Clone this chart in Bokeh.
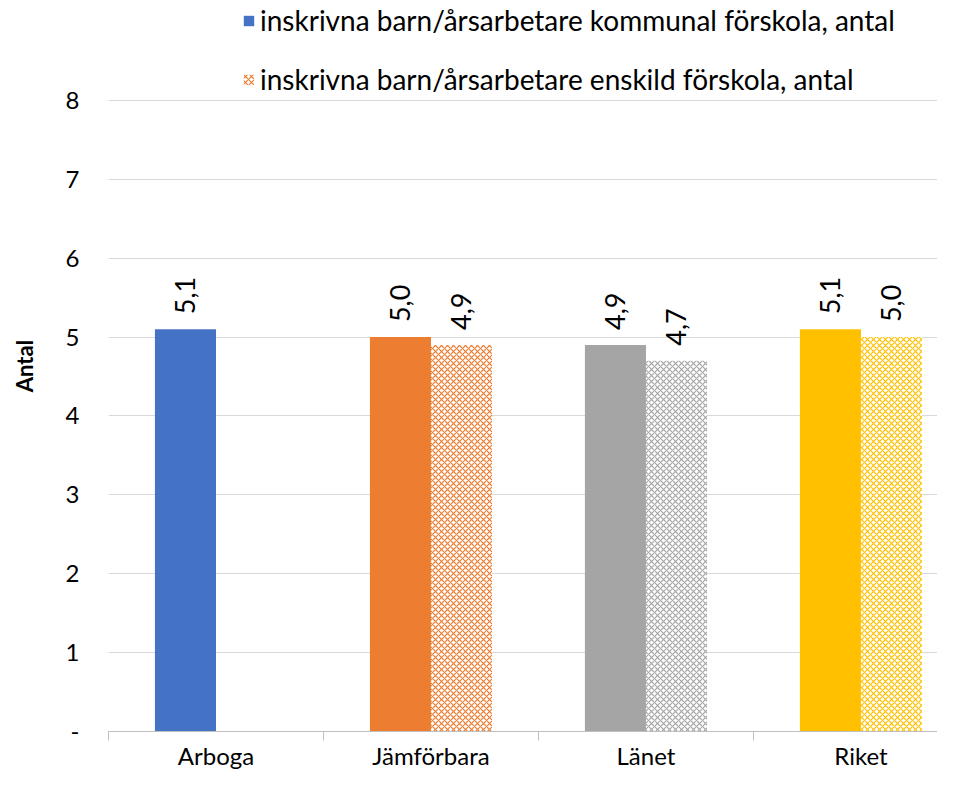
import math
from bokeh.plotting import figure
from bokeh.models import (ColumnDataSource, Range1d, FixedTicker, LabelSet,
                          Legend, LegendItem)
from bokeh.core.properties import value
from bokeh.embed import file_html
from bokeh.resources import INLINE

categories = ["Arboga", "Jämförbara", "Länet", "Riket"]
kommunal = [5.1, 5.0, 4.9, 5.1]
enskild = [float("nan"), 4.9, 4.7, 5.0]
series_names = ["inskrivna barn/årsarbetare kommunal förskola, antal",
                "inskrivna barn/årsarbetare enskild förskola, antal"]
y_ticks = [0, 1, 2, 3, 4, 5, 6, 7, 8]

solid_colors = ["#4472C4", "#ED7D31", "#A5A5A5", "#FFC000"]
hatch_colors = ["#ED7D31", "#ED7D31", "#A5A5A5", "#FFC000"]

FONT = "Lato"
centers = [i + 0.5 for i in range(len(categories))]
bw = 0.284
off = 0.142

def fmt(v):
    return "" if math.isnan(v) else f"{v:.1f}".replace(".", ",")

src1 = ColumnDataSource(dict(x=[c - off for c in centers], top=kommunal,
                             color=solid_colors,
                             label=[fmt(v) for v in kommunal]))
src2 = ColumnDataSource(dict(x=[c + off for c in centers], top=enskild,
                             hcolor=hatch_colors,
                             label=[fmt(v) for v in enskild]))

p = figure(width=937, height=772, output_backend="svg", toolbar_location=None,
           x_range=Range1d(0, 3.856), y_range=Range1d(0, 9.266),
           min_border_left=108, min_border_right=0, min_border_top=0,
           min_border_bottom=0)
p.outline_line_color = None
p.background_fill_color = "white"

r1 = p.vbar(x="x", top="top", width=bw, source=src1, fill_color="color",
            line_color=None)
r2 = p.vbar(x="x", top="top", width=bw, source=src2, fill_color="white",
            line_color=None, hatch_pattern="diagonal_cross", hatch_color="hcolor",
            hatch_scale=6, hatch_weight=1.2)

for s in (src1, src2):
    lbl = LabelSet(x="x", y="top", text="label", source=s, angle=math.pi / 2,
                   text_align="left", text_baseline="middle", y_offset=15,
                   text_font=value(FONT), text_font_size="27px",
                   text_color="#000000")
    p.add_layout(lbl)

# axes
p.xaxis.ticker = FixedTicker(ticks=centers, minor_ticks=[0, 1, 2, 3])
p.xaxis.major_label_overrides = {c: n for c, n in zip(centers, categories)}
p.xaxis.major_tick_line_color = None
p.xaxis.major_tick_out = 0
p.xaxis.major_tick_in = 0
p.xaxis.minor_tick_in = 0
p.xaxis.minor_tick_out = 9
p.xaxis.minor_tick_line_color = "#BFBFBF"
p.xaxis.axis_line_color = "#BFBFBF"
p.xaxis.major_label_text_font = FONT
p.xaxis.major_label_text_font_size = "24px"
p.xaxis.major_label_text_color = "#000000"
p.xaxis.major_label_standoff = 0
p.xgrid.grid_line_color = None

p.yaxis.ticker = FixedTicker(ticks=y_ticks)
p.yaxis.major_label_overrides = {0: "-"}
p.yaxis.axis_line_color = None
p.yaxis.major_tick_line_color = None
p.yaxis.minor_tick_line_color = None
p.yaxis.major_label_text_font = FONT
p.yaxis.major_label_text_font_size = "24px"
p.yaxis.major_label_text_color = "#000000"
p.yaxis.major_label_standoff = 23
p.yaxis.axis_label = "Antal"
p.yaxis.axis_label_text_font = FONT
p.yaxis.axis_label_text_font_size = "22px"
p.yaxis.axis_label_text_font_style = "bold"
p.yaxis.axis_label_text_color = "#000000"
p.yaxis.axis_label_standoff = 25
p.ygrid.grid_line_color = "#D9D9D9"
p.ygrid.grid_line_width = 1

legend = Legend(items=[LegendItem(label=series_names[0], renderers=[r1], index=0),
                       LegendItem(label=series_names[1], renderers=[r2], index=1)],
                location=(134, 635), orientation="vertical",
                label_text_font=FONT, label_text_font_size="28px",
                label_text_color="#000000", glyph_width=13, glyph_height=13,
                label_height=22, spacing=25, label_standoff=5, padding=0,
                margin=0, border_line_color=None, background_fill_color="white",
                background_fill_alpha=1)
p.add_layout(legend, "center")

open("out.html", "w").write(file_html(p, INLINE))
